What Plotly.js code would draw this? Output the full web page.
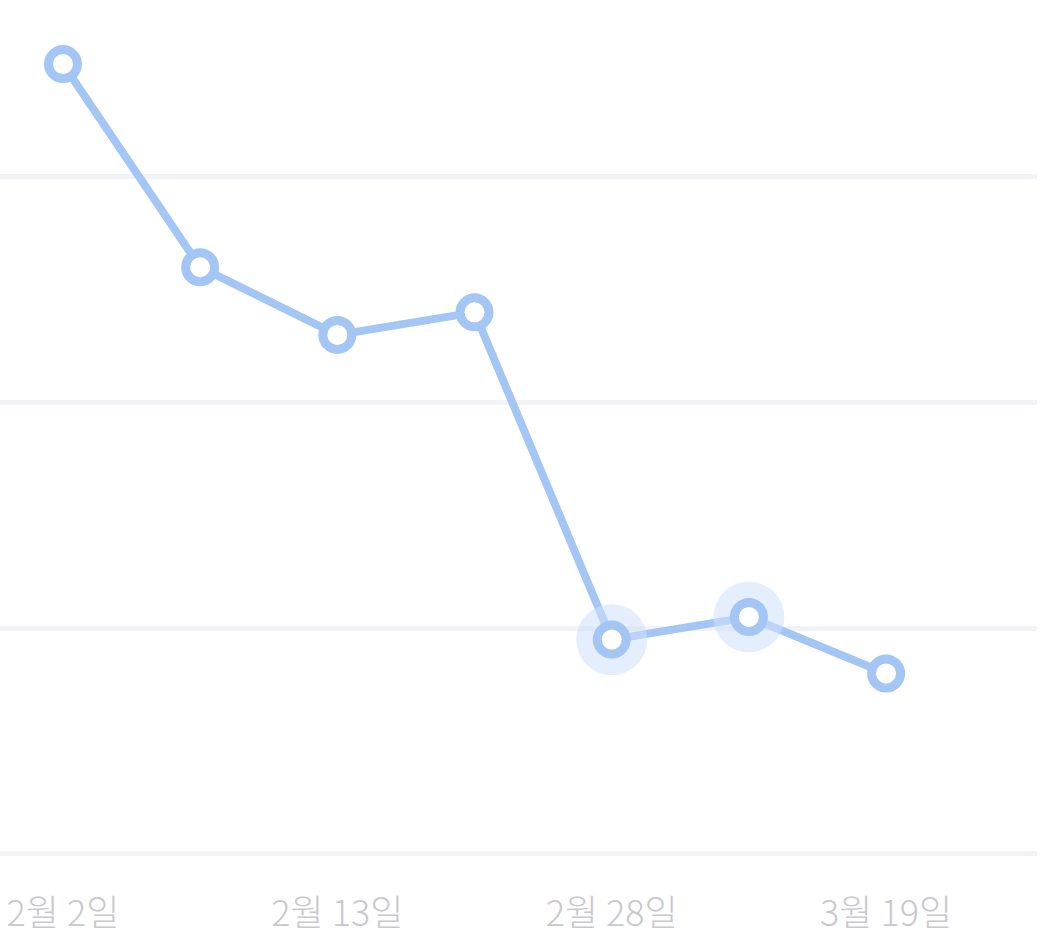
<!DOCTYPE html>
<html>
<head>
<meta charset="utf-8">
<script src="https://cdn.plot.ly/plotly-3.0.1.min.js"></script>
<style>
html,body{margin:0;padding:0;background:#fff;}
#chart{width:1049px;height:952px;}
</style>
</head>
<body>
<div id="chart"></div>
<script>
// Data
const dates = ["2월 2일", "2월 7일", "2월 13일", "2월 20일", "2월 28일", "3월 9일", "3월 19일"];
const values = [35, 26, 23, 24, 9.5, 10.5, 8];
const highlighted = [4, 5];
const tickIndices = [0, 2, 4, 6];
const tickLabels = ["2월 2일", "2월 13일", "2월 28일", "3월 19일"];

const xIdx = dates.map((d, i) => i);
const lineColor = "#a4c6f5";

const traces = [
  {
    x: xIdx, y: values, type: "scatter", mode: "lines",
    line: {color: lineColor, width: 8},
    hoverinfo: "skip", showlegend: false
  },
  {
    x: highlighted, y: highlighted.map(i => values[i]), type: "scatter", mode: "markers",
    marker: {size: 71, color: "rgba(205,224,250,0.55)", line: {width: 0}},
    hoverinfo: "skip", showlegend: false
  },
  {
    x: xIdx, y: values, type: "scatter", mode: "markers",
    marker: {size: 29, color: "#ffffff", line: {color: lineColor, width: 9}},
    text: dates, hoverinfo: "text+y", showlegend: false
  }
];

const layout = {
  width: 1049, height: 952,
  margin: {l: 0, r: 12, t: 0, b: 80},
  paper_bgcolor: "#ffffff", plot_bgcolor: "#ffffff",
  xaxis: {
    range: [-0.459, 7.10],
    tickvals: tickIndices, ticktext: tickLabels,
    showgrid: false, zeroline: false, showline: false,
    ticks: "", ticklabelstandoff: 17,
    tickfont: {family: "Noto Sans CJK KR, Noto Sans, sans-serif", size: 36, color: "#c8c8cd", weight: 300}
  },
  yaxis: {
    range: [-0.798, 37.84],
    tickvals: [0, 10, 20, 30],
    showticklabels: false, ticks: "",
    showgrid: true, gridcolor: "#f2f3f7", gridwidth: 5,
    zeroline: false, showline: false
  },
  hovermode: false
};

Plotly.newPlot("chart", traces, layout, {displayModeBar: false, staticPlot: true});
</script>
</body>
</html>
